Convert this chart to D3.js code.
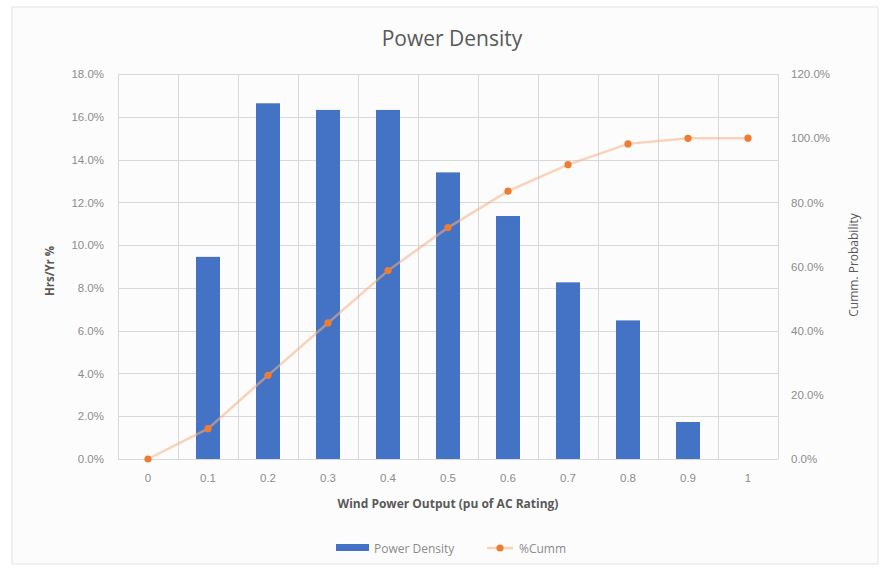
<!DOCTYPE html>
<html>
<head>
<meta charset="utf-8">
<script src="https://cdn.jsdelivr.net/npm/d3@7"></script>
<style>
  body { margin: 0; background: #fff; }
  svg { font-family: "Open Sans", "Noto Sans", sans-serif; }
</style>
</head>
<body>
<svg id="chart" width="884" height="577"></svg>
<script>
// values
var categories = ["0", "0.1", "0.2", "0.3", "0.4", "0.5", "0.6", "0.7", "0.8", "0.9", "1"];
var powerDensity = [0, 0.0945, 0.1663, 0.1632, 0.1632, 0.134, 0.1136, 0.0826, 0.0648, 0.0173, 0];
var cumm = [0, 0.0945, 0.2608, 0.424, 0.5872, 0.7212, 0.8348, 0.9174, 0.9822, 0.9995, 1.0];
var leftTicks = [0, 0.02, 0.04, 0.06, 0.08, 0.10, 0.12, 0.14, 0.16, 0.18];
var rightTicks = [0, 0.2, 0.4, 0.6, 0.8, 1.0, 1.2];

var margin = {top: 74, right: 106, bottom: 118, left: 118},
    width = 884 - margin.left - margin.right,
    height = 577 - margin.top - margin.bottom;

var svg = d3.select("#chart");

// chart area background + border
svg.append("rect")
    .attr("x", 12).attr("y", 7)
    .attr("width", 866).attr("height", 557)
    .attr("fill", "#fcfcfc")
    .attr("stroke", "#e2e2e2");

var g = svg.append("g")
    .attr("transform", "translate(" + margin.left + "," + margin.top + ")");

var x = d3.scaleBand()
    .domain(categories)
    .range([0, width])
    .paddingInner(0.6)
    .paddingOuter(0.3);

var y = d3.scaleLinear().domain([0, 0.18]).range([height, 0]);
var y2 = d3.scaleLinear().domain([0, 1.2]).range([height, 0]);

// horizontal grid
g.append("g")
    .selectAll("line")
    .data(leftTicks)
  .enter().append("line")
    .attr("x1", 0).attr("x2", width)
    .attr("y1", function(d) { return Math.round(y(d)) + 0.5; })
    .attr("y2", function(d) { return Math.round(y(d)) + 0.5; })
    .attr("stroke", "#d9d9d9");

// vertical grid at category boundaries
var step = x.step();
var bounds = d3.range(categories.length + 1).map(function(i) { return i * step; });
g.append("g")
    .selectAll("line")
    .data(bounds)
  .enter().append("line")
    .attr("x1", function(d) { return Math.round(d) + 0.5; })
    .attr("x2", function(d) { return Math.round(d) + 0.5; })
    .attr("y1", 0).attr("y2", height)
    .attr("stroke", "#d9d9d9");

// bars
g.selectAll(".bar")
    .data(powerDensity)
  .enter().append("rect")
    .attr("class", "bar")
    .attr("x", function(d, i) { return x(categories[i]); })
    .attr("y", function(d) { return y(d); })
    .attr("width", x.bandwidth())
    .attr("height", function(d) { return height - y(d); })
    .attr("fill", "#4472c4");

// cumulative line
var line = d3.line()
    .x(function(d, i) { return x(categories[i]) + x.bandwidth() / 2; })
    .y(function(d) { return y2(d); });

g.append("path")
    .datum(cumm)
    .attr("d", line)
    .attr("fill", "none")
    .attr("stroke", "#f4b183")
    .attr("stroke-opacity", 0.55)
    .attr("stroke-width", 2.5);

g.selectAll(".dot")
    .data(cumm)
  .enter().append("circle")
    .attr("class", "dot")
    .attr("cx", function(d, i) { return x(categories[i]) + x.bandwidth() / 2; })
    .attr("cy", function(d) { return y2(d); })
    .attr("r", 3.6)
    .attr("fill", "#ed7d31");

// axes
var yAxis = d3.axisLeft(y).tickValues(leftTicks).tickFormat(d3.format(".1%")).tickSize(0).tickPadding(14);
var y2Axis = d3.axisRight(y2).tickValues(rightTicks).tickFormat(d3.format(".1%")).tickSize(0).tickPadding(13);
var xAxis = d3.axisBottom(x).tickSize(0).tickPadding(15);

var ya = g.append("g").call(yAxis);
var y2a = g.append("g").attr("transform", "translate(" + width + ",0)").call(y2Axis);
var xa = g.append("g").attr("transform", "translate(0," + height + ")").call(xAxis);

[ya, y2a, xa].forEach(function(a) {
  a.select(".domain").remove();
  a.selectAll("text").attr("fill", "#8c8c8c").style("font-size", "11.5px");
});

// titles
svg.append("text")
    .attr("x", 452).attr("y", 46)
    .attr("text-anchor", "middle")
    .attr("fill", "#595959")
    .style("font-size", "21px")
    .text("Power Density");

svg.append("text")
    .attr("transform", "translate(54,271) rotate(-90)")
    .attr("text-anchor", "middle")
    .attr("fill", "#595959")
    .style("font-size", "11.5px")
    .style("font-weight", "bold")
    .text("Hrs/Yr %");

svg.append("text")
    .attr("transform", "translate(858,265) rotate(-90)")
    .attr("text-anchor", "middle")
    .attr("fill", "#595959")
    .style("font-size", "12px")
    .text("Cumm. Probability");

svg.append("text")
    .attr("x", 448).attr("y", 508)
    .attr("text-anchor", "middle")
    .attr("fill", "#595959")
    .style("font-size", "12px")
    .style("font-weight", "bold")
    .text("Wind Power Output (pu of AC Rating)");

// legend
var legend = svg.append("g").attr("transform", "translate(0,548)");
legend.append("rect")
    .attr("x", 336).attr("y", -4)
    .attr("width", 33).attr("height", 7)
    .attr("fill", "#4472c4");
legend.append("text")
    .attr("x", 374).attr("y", 4.5)
    .attr("fill", "#8c8c8c")
    .style("font-size", "12px")
    .text("Power Density");
legend.append("line")
    .attr("x1", 487).attr("x2", 513)
    .attr("y1", 0).attr("y2", 0)
    .attr("stroke", "#f4b183")
    .attr("stroke-opacity", 0.55)
    .attr("stroke-width", 2.5);
legend.append("circle")
    .attr("cx", 500).attr("cy", 0).attr("r", 3.6)
    .attr("fill", "#ed7d31");
legend.append("text")
    .attr("x", 519).attr("y", 4.5)
    .attr("fill", "#8c8c8c")
    .style("font-size", "12px")
    .text("%Cumm");
</script>
</body>
</html>
